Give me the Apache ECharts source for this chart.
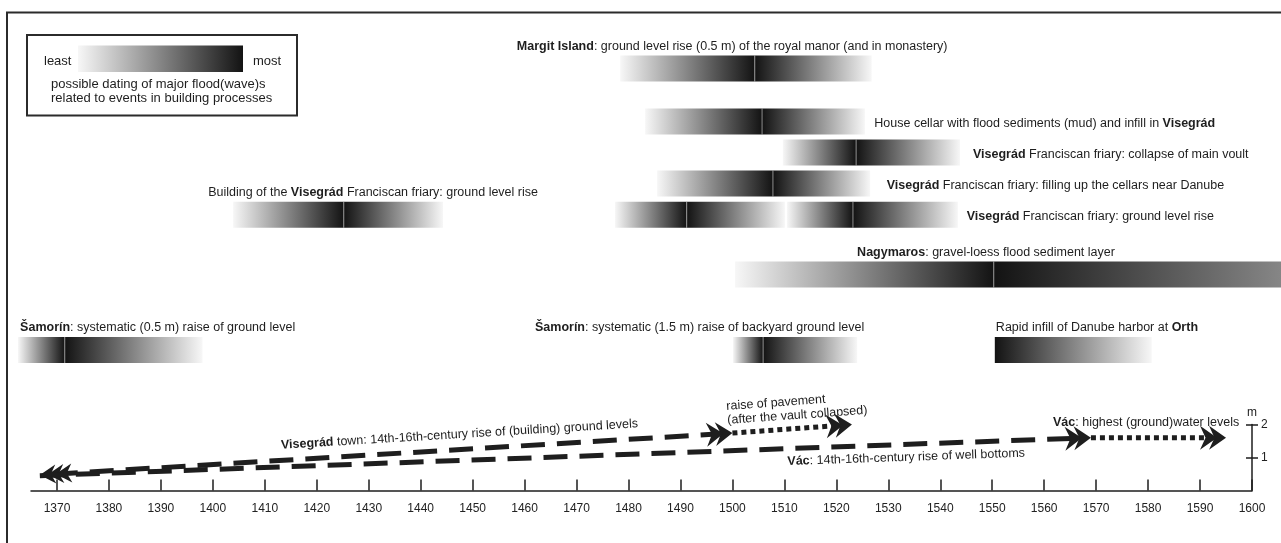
<!DOCTYPE html>
<html>
<head>
<meta charset="utf-8">
<script src="https://cdn.jsdelivr.net/npm/echarts@6/dist/echarts.min.js"></script>
<style>
html,body{margin:0;padding:0;background:#fff;}
#chart{width:1281px;height:543px;}
</style>
</head>
<body>
<div id="chart"></div>
<script>
// ---------------- data ----------------
const axisMinYear = 1365;
const axisMaxYear = 1600;
const tickYears = [1370,1380,1390,1400,1410,1420,1430,1440,1450,1460,1470,1480,1490,1500,1510,1520,1530,1540,1550,1560,1570,1580,1590,1600];
const meterTicks = [1, 2];

// flood-dating bands: start year, most probable year, end year
const bandStart = [1478.4, 1483.2, 1509.7, 1485.5, 1477.4, 1510.5, 1403.9, 1500.5, 1362.5, 1500.1, 1550.5];
const bandPeak  = [1504.3, 1505.7, 1523.8, 1507.8, 1491.2, 1523.2, 1425.2, 1550.3, 1371.5, 1505.9, 1550.5];
const bandEnd   = [1526.8, 1525.5, 1543.8, 1526.5, 1510.1, 1543.4, 1444.3, 1660.0, 1398.0, 1524.0, 1580.7];

// event notes
const noteTexts = [
  '{b|Margit Island}: ground level rise (0.5 m) of the royal manor (and in monastery)',
  'House cellar with flood sediments (mud) and infill in {b|Visegrád}',
  '{b|Visegrád} Franciscan friary: collapse of main voult',
  '{b|Visegrád} Franciscan friary: filling up the cellars near Danube',
  '{b|Visegrád} Franciscan friary: ground level rise',
  'Building of the {b|Visegrád} Franciscan friary: ground level rise',
  '{b|Nagymaros}: gravel-loess flood sediment layer',
  '{b|Šamorín}: systematic (0.5 m) raise of ground level',
  '{b|Šamorín}: systematic (1.5 m) raise of backyard ground level',
  'Rapid infill of Danube harbor at {b|Orth}'
];
const noteYear = [1458.5, 1527.3, 1546.3, 1529.7, 1545.1, 1399.1, 1524.0, 1362.9, 1462.0, 1550.7];

// level curves (year, metres)
const visegradTown     = [[1366.7, 0.47], [1500, 1.74]];
const visegradPavement = [[1500, 1.74], [1523, 2.0]];
const vacWells         = [[1366.7, 0.45], [1569, 1.6]];
const vacWater         = [[1569, 1.6], [1595, 1.6]];
const levelNoteTexts = [
  '{b|Visegrád} town: 14th-16th-century rise of (building) ground levels',
  '{b|Vác}: 14th-16th-century rise of well bottoms',
  'raise of pavement\n(after the vault collapsed)',
  '{b|Vác}: highest (ground)water levels'
];
const levelNoteYear = [1413.3, 1510.5, 1499.2, 1561.7];

// ---------------- layout / style ----------------
const bandLane = [0, 1.7, 2.7, 3.7, 4.7, 4.7, 4.7, 6.62, 9.05, 9.05, 9.05];
const noteLane = [0, 1.7, 2.7, 3.7, 4.7, 4.7, 6.62, 9.05, 9.05, 9.05];
const notePlace = ['above','right','right','right','right','above','above','above','above','above'];
const levelNoteOffset = [-15, 13, -20, -15];
const levelNoteRotate = [true, true, true, false];

const FONT = '"Liberation Sans", Arial, Helvetica, sans-serif';
const INK = '#1e1e1e';
const LIGHT = '#f7f7f7';
const DARK = '#131313';
const FS = 12.5;
const RICH = { b: { fontWeight: 'bold', fontSize: FS, fontFamily: FONT, fill: INK } };

function grad(a, b) {
  return new echarts.graphic.LinearGradient(0, 0, 1, 0, [{offset: 0, color: a}, {offset: 1, color: b}]);
}

const chart = echarts.init(document.getElementById('chart'), null, {renderer: 'canvas'});

function renderBand(params, api) {
  const lane = api.value(3);
  const a = api.coord([api.value(0), lane]);
  const p = api.coord([api.value(1), lane]);
  const b = api.coord([api.value(2), lane]);
  const H = 26, top = a[1] - H / 2;
  const wl = p[0] - a[0], wr = b[0] - p[0];
  const ch = [];
  if (wl > 0.5) ch.push({type: 'rect', shape: {x: a[0], y: top, width: wl, height: H}, style: {fill: grad(LIGHT, DARK)}});
  if (wr > 0.5) ch.push({type: 'rect', shape: {x: p[0], y: top, width: wr, height: H}, style: {fill: grad(DARK, LIGHT)}});
  if (wl > 0.5 && wr > 0.5) ch.push({type: 'rect', shape: {x: p[0] - 0.5, y: top, width: 1, height: H}, style: {fill: 'rgba(200,200,200,0.65)'}});
  return {type: 'group', children: ch};
}

function renderNote(params, api) {
  const i = params.dataIndex;
  const pt = api.coord([api.value(0), api.value(1)]);
  const above = notePlace[i] === 'above';
  return {
    type: 'text', x: pt[0], y: pt[1] + (above ? -22 : 2),
    style: {text: noteTexts[i], fontSize: FS, fontFamily: FONT, fill: INK, align: 'left', verticalAlign: 'middle', rich: RICH}
  };
}

function heads(tip, u, offsets, len, half, notch) {
  const n = [-u[1], u[0]];
  return offsets.map(function (o) {
    const P = function (a, b) { return [tip[0] + u[0] * (a - o) + n[0] * b, tip[1] + u[1] * (a - o) + n[1] * b]; };
    return {type: 'polygon', shape: {points: [P(0, 0), P(-len, -half), P(-notch, 0), P(-len, half)]}, style: {fill: INK}};
  });
}

const DASH = [24, 12];
const DOT = [5, 4];
const levelPaths = [
  {pts: visegradTown, dash: DASH, start: true, notes: [0]},
  {pts: visegradPavement, dash: DOT, start: false, notes: [2]},
  {pts: vacWells, dash: DASH, start: false, notes: [1]},
  {pts: vacWater, dash: DOT, start: false, notes: [3]}
];

function pathSeries(spec) {
  return {
    type: 'custom', xAxisIndex: 1, yAxisIndex: 1, clip: false, silent: true, z: 3,
    data: [[spec.pts[0][0], spec.pts[0][1], spec.pts[1][0], spec.pts[1][1]]],
    renderItem: function (params, api) {
      const A = api.coord([api.value(0), api.value(1)]);
      const B = api.coord([api.value(2), api.value(3)]);
      const dx = B[0] - A[0], dy = B[1] - A[1], L = Math.hypot(dx, dy);
      const u = [dx / L, dy / L];
      const nd = [-u[1], u[0]];
      let s = A;
      const ch = [];
      if (spec.start) {
        s = [A[0] + u[0] * 14, A[1] + u[1] * 14];
        ch.push.apply(ch, heads(A, [-u[0], -u[1]], [0, 8, 16], 16, 9.5, 11));
      }
      const e = [B[0] - u[0] * 12, B[1] - u[1] * 12];
      ch.push.apply(ch, heads(B, u, [0, 9], 17, 12, 11.5));
      ch.unshift({type: 'polyline', shape: {points: [s, e]}, style: {stroke: INK, lineWidth: 5, lineDash: spec.dash, lineCap: 'butt', fill: null}});
      spec.notes.forEach(function (k) {
        const xp = api.coord([levelNoteYear[k], 0])[0];
        const t = (xp - A[0]) / dx;
        const P = [xp, A[1] + t * dy];
        const off = levelNoteOffset[k];
        ch.push({
          type: 'text', x: P[0] + nd[0] * off, y: P[1] + nd[1] * off,
          rotation: levelNoteRotate[k] ? -Math.atan2(dy, dx) : 0,
          style: {text: levelNoteTexts[k], fontSize: FS, fontFamily: FONT, fill: INK, align: 'left', verticalAlign: 'middle', lineHeight: 14, rich: RICH}
        });
      });
      return {type: 'group', children: ch};
    }
  };
}

const option = {
  animation: false,
  backgroundColor: '#ffffff',
  grid: [
    {left: 31, right: 29, top: 68.5, bottom: 193},
    {left: 31, right: 29, top: 424.5, bottom: 52.5}
  ],
  xAxis: [
    {gridIndex: 0, type: 'value', min: axisMinYear, max: axisMaxYear, show: false},
    {
      gridIndex: 1, type: 'value', min: axisMinYear, max: axisMaxYear,
      axisLine: {show: true, lineStyle: {color: INK, width: 1.5}},
      axisTick: {show: true, inside: true, length: 11, customValues: tickYears, lineStyle: {color: INK, width: 1.5}},
      axisLabel: {show: true, customValues: tickYears, margin: 12, fontSize: 12, fontFamily: FONT, color: '#222',
        formatter: function (v) { return String(Math.round(v)); }},
      splitLine: {show: false}
    }
  ],
  yAxis: [
    {gridIndex: 0, type: 'value', min: 0, max: 9.05, inverse: true, show: false},
    {
      gridIndex: 1, type: 'value', min: 0, max: 2, position: 'right',
      name: 'm', nameLocation: 'end', nameGap: 4,
      nameTextStyle: {fontSize: 12, fontFamily: FONT, color: '#222'},
      axisLine: {show: true, lineStyle: {color: INK, width: 1.5}},
      axisTick: {show: true, inside: false, length: 6, customValues: meterTicks, lineStyle: {color: INK, width: 1.5}},
      axisLabel: {show: true, customValues: meterTicks, margin: 9, fontSize: 12, fontFamily: FONT, color: '#222'},
      splitLine: {show: false}
    },
    {
      gridIndex: 1, type: 'value', min: 0, max: 2, position: 'right',
      axisLine: {show: false},
      axisTick: {show: true, inside: true, length: 6, customValues: meterTicks, lineStyle: {color: INK, width: 1.5}},
      axisLabel: {show: false},
      splitLine: {show: false}
    }
  ],
  graphic: [
    {type: 'line', shape: {x1: 6, y1: 12.5, x2: 1281, y2: 12.5}, style: {stroke: '#2b2b2b', lineWidth: 2}},
    {type: 'line', shape: {x1: 7, y1: 12, x2: 7, y2: 543}, style: {stroke: '#2b2b2b', lineWidth: 2}},
    {type: 'rect', shape: {x: 27, y: 35, width: 270, height: 80.5}, style: {fill: '#fff', stroke: '#2b2b2b', lineWidth: 2}},
    {type: 'rect', shape: {x: 78, y: 45.5, width: 165, height: 26.5}, style: {fill: grad(LIGHT, DARK)}},
    {type: 'text', x: 44, y: 61, style: {text: 'least', fontSize: 13, fontFamily: FONT, fill: INK, verticalAlign: 'middle'}},
    {type: 'text', x: 253, y: 61, style: {text: 'most', fontSize: 13, fontFamily: FONT, fill: INK, verticalAlign: 'middle'}},
    {type: 'text', x: 51, y: 91.7, style: {text: 'possible dating of major flood(wave)s\nrelated to events in building processes', fontSize: 13, lineHeight: 14, fontFamily: FONT, fill: INK, verticalAlign: 'middle'}}
  ],
  series: [
    {
      type: 'custom', name: 'bands', xAxisIndex: 0, yAxisIndex: 0, clip: false, silent: true,
      data: bandStart.map(function (s, i) { return [s, bandPeak[i], bandEnd[i], bandLane[i]]; }),
      renderItem: renderBand
    },
    {
      type: 'custom', name: 'notes', xAxisIndex: 0, yAxisIndex: 0, clip: false, silent: true, z: 4,
      data: noteYear.map(function (y, i) { return [y, noteLane[i]]; }),
      renderItem: renderNote
    }
  ].concat(levelPaths.map(pathSeries))
};

chart.setOption(option);
</script>
</body>
</html>
